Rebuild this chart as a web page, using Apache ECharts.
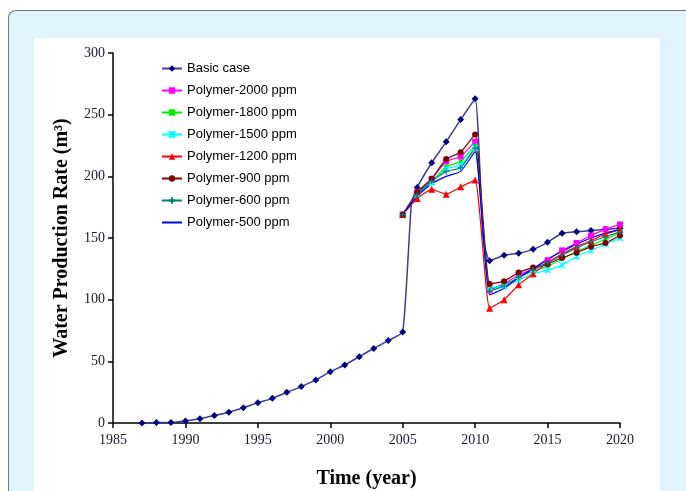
<!DOCTYPE html>
<html>
<head>
<meta charset="utf-8">
<script src="https://cdn.jsdelivr.net/npm/echarts@6/dist/echarts.min.js"></script>
<style>
html,body{margin:0;padding:0;background:#fff;}
#wrap{position:relative;width:686px;height:491px;overflow:hidden;background:#fff;}
#frame{position:absolute;left:8px;top:10px;width:720px;height:520px;border-left:1.5px solid #7a7a7a;border-top:1.5px solid #7a7a7a;border-top-left-radius:8px;background:#e1f3fc;}
#panel{position:absolute;left:34px;top:38px;width:626px;height:460px;background:#fff;}
#chart{position:absolute;left:0;top:0;width:686px;height:491px;}
</style>
</head>
<body>
<div id="wrap"><div id="frame"></div><div id="panel"></div><div id="chart"></div></div>
<script>
// ---- data ----
const earlyYears = [1987,1988,1989,1990,1991,1992,1993,1994,1995,1996,1997,1998,1999,2000,2001,2002,2003,2004,2005];
const basicEarly = [0,0.5,0.5,1.6,3.5,6,8.7,12.4,16.5,20,24.9,29.5,34.9,41.6,47,53.8,60.5,66.8,73.8];
const lateYears = [2006,2007,2008,2009,2010,2011,2012,2013,2014,2015,2016,2017,2018,2019,2020];
const basicLate = [191,211,228,246,263,131.6,136,137.6,140.8,146.5,153.8,155,156,157,158];
// unmarked intermediate points of the basic-case curve (steep rise / fall)
const basicExtra = [[2005.6,178],[2010.55,150]];

const polyYears = [2005,2006,2007,2008,2009,2010,2011,2012,2013,2014,2015,2016,2017,2018,2019,2020];
const p2000 = [169,187,198,212,216,228,108,113,120,125,132,140,146,152,157,161];
const p1800 = [169,186,196,208,212,225,109,112,118,123,127,133,139,144,149,154];
const p1500 = [169,185,195,206,209,223,110,111,116,121,124,128,135,140,145,150];
const p1200 = [169,182,189.5,185.5,191.5,197,93,100,112,121,130,137,143,148,153,157];
const p900  = [169,187,198,214,219.5,234,112.7,115,122,126,129,134,138,143,146,152];
const p600  = [169,185,196,204,207,222.7,107,111,118,124,130,136,142,147,151,155];
const p500  = [169,184,194,200,204,220,104,109,118,125,133,139,145,150,154,157];

const seriesNames = ['Basic case','Polymer-2000 ppm','Polymer-1800 ppm','Polymer-1500 ppm','Polymer-1200 ppm','Polymer-900 ppm','Polymer-600 ppm','Polymer-500 ppm'];
const xTicks = {min:1985,max:2020,interval:5};
const yTicks = {min:0,max:300,interval:50};

// ---- build ----
function pairs(xs, ys){ return xs.map((x,i)=>[x, ys[i]]); }
const basicData = [];
earlyYears.forEach((y,i)=>basicData.push([y,basicEarly[i]]));
basicData.push({value:basicExtra[0], symbol:'none'});
lateYears.forEach((y,i)=>{
  if (y===2011) basicData.push({value:basicExtra[1], symbol:'none'});
  basicData.push([y,basicLate[i]]);
});

const xPath = 'path://M0,0L10,10M10,0L0,10M5,0L5,10';
const plusPath = 'path://M5,0L5,10M0,5L10,5';

function polySeries(name, data, color, symbol, size, extra){
  return Object.assign({
    name, type:'line', data: pairs(polyYears, data),
    smooth:0.15, symbol, symbolSize:size,
    lineStyle:{color, width:1.2},
    itemStyle:{color, borderColor:color, borderWidth: (symbol.startsWith('path')?1.2:0)},
    emphasis:{disabled:true}
  }, extra||{});
}

const serif = 'Liberation Serif, Times New Roman, serif';
const legendData = seriesNames.map(n => n === 'Polymer-500 ppm' ? {name:n, itemStyle:{opacity:0}} : n);
const option = {
  animation:false,
  backgroundColor:'transparent',
  grid:{left:113, right:66, top:53, bottom:68, containLabel:false, outerBoundsMode:'none'},
  legend:{
    orient:'vertical', left:156, top:57, itemWidth:20, itemHeight:8, itemGap:9,
    textStyle:{fontFamily:'Liberation Sans, Arial, sans-serif', fontSize:13, color:'#000'},
    data: legendData
  },
  xAxis:{
    type:'value', min:xTicks.min, max:xTicks.max, interval:xTicks.interval,
    axisLine:{show:true, lineStyle:{color:'#000', width:1.5}},
    axisTick:{show:true, inside:false, length:5, lineStyle:{color:'#000', width:1.5}},
    splitLine:{show:false},
    axisLabel:{fontFamily:serif, fontSize:14, color:'#1a1a2a', margin:10, formatter:v=>String(v)},
    name:'Time (year)', nameLocation:'middle', nameGap:46,
    nameTextStyle:{fontFamily:serif, fontSize:20, fontWeight:'bold', color:'#000'}
  },
  yAxis:{
    type:'value', min:yTicks.min, max:yTicks.max, interval:yTicks.interval,
    axisLine:{show:true, lineStyle:{color:'#000', width:1.5}},
    axisTick:{show:true, inside:false, length:5, lineStyle:{color:'#000', width:1.5}},
    splitLine:{show:false},
    axisLabel:{fontFamily:serif, fontSize:14, color:'#1a1a2a', margin:8, formatter:v=>String(v)},
    name:'Water Production Rate (m³)', nameLocation:'middle', nameGap:41, nameRotate:90,
    nameTextStyle:{fontFamily:serif, fontSize:20, fontWeight:'bold', color:'#000'}
  },
  series:[
    {name:seriesNames[0], type:'line', data:basicData, smooth:0.15, symbol:'diamond', symbolSize:7,
     lineStyle:{color:'#3c3c9c', width:1.5}, itemStyle:{color:'#000080'}, z:3, emphasis:{disabled:true}},
    polySeries(seriesNames[1], p2000, '#ff00ff', 'rect', 6),
    polySeries(seriesNames[2], p1800, '#00ee00', 'rect', 4),
    polySeries(seriesNames[3], p1500, '#00ffff', xPath, 6),
    polySeries(seriesNames[4], p1200, '#ff0000', 'triangle', 7),
    polySeries(seriesNames[5], p900, '#800000', 'circle', 6),
    polySeries(seriesNames[6], p600, '#008080', plusPath, 6),
    polySeries(seriesNames[7], p500, '#0000ff', 'none', 4)
  ]
};
const chart = echarts.init(document.getElementById('chart'), null, {renderer:'canvas'});
chart.setOption(option);
</script>
</body>
</html>
